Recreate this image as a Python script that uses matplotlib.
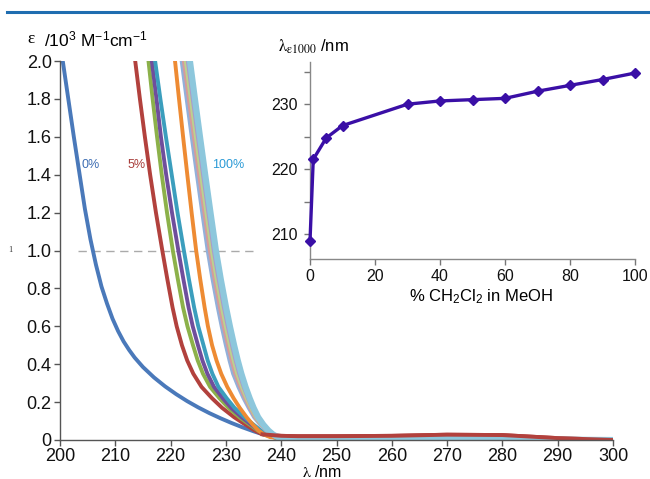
import matplotlib
matplotlib.use('Agg')
import matplotlib.pyplot as plt
from matplotlib.ticker import MultipleLocator, FixedLocator, FuncFormatter
from matplotlib.lines import Line2D

plt.rcParams['font.family'] = ['Liberation Sans', 'DejaVu Sans']
plt.rcParams['mathtext.fontset'] = 'custom'
plt.rcParams['mathtext.rm'] = 'Liberation Sans'
plt.rcParams['mathtext.it'] = 'Liberation Sans:italic'
plt.rcParams['mathtext.bf'] = 'Liberation Sans:bold'
plt.rcParams['mathtext.default'] = 'regular'

# ---------------- data: main spectra ----------------
# 0% CH2Cl2 (blue)
blue_lam = [200.0, 200.5, 201.5, 202.5, 203.5, 204.5, 205.5, 206.5, 207.5, 208.5, 209.5,
            210.5, 211.5, 212.5, 213.5, 215.0, 217.0, 219.0, 221.0, 223.0, 225.0, 227.0,
            229.0, 231.0, 233.0, 235.0, 237.0, 239.0, 241.0,
            245, 260, 275, 290, 300]
blue_eps = [2.10, 2.00, 1.80, 1.60, 1.41, 1.22, 1.06, 0.925, 0.81, 0.72, 0.64,
            0.575, 0.52, 0.475, 0.435, 0.385, 0.330, 0.283, 0.242, 0.205, 0.172, 0.142,
            0.115, 0.090, 0.067, 0.046, 0.027, 0.012, 0.006,
            0.005, 0.005, 0.006, 0.002, 0.0]

# 5% (red): wavelength at given epsilon levels, then its long-wavelength tail
red_eps = [2.2, 2.0, 1.8, 1.6, 1.4, 1.2, 1.0, 0.85, 0.7, 0.6, 0.5, 0.42, 0.35,
           0.28, 0.22, 0.17, 0.12, 0.08, 0.05, 0.03,
           0.022, 0.02, 0.02, 0.022, 0.028, 0.026, 0.01, 0.0]
red_lam = [212.8, 213.6, 214.45, 215.35, 216.3, 217.35, 218.5, 219.4, 220.35, 221.1, 222.05, 223.0, 224.1,
           225.6, 227.5, 229.3, 231.5, 233.6, 235.2, 236.6,
           240, 243, 250, 260, 270, 280, 290, 300]

# other spectra: wavelength at shared epsilon levels
steep_eps = [2.2, 2.0, 1.8, 1.6, 1.4, 1.2, 1.0, 0.85, 0.7, 0.6, 0.5, 0.42, 0.35,
             0.28, 0.22, 0.17, 0.12, 0.08, 0.05, 0.03, 0.015]
green_lam  = [215.2, 216.0, 216.75, 217.55, 218.4, 219.35, 220.4, 221.3, 222.25, 223.05, 224.05, 224.9, 225.85,
              227.15, 228.85, 230.45, 232.45, 234.35, 235.8, 237.05, 238.55]
purple_lam = [215.8, 216.6, 217.45, 218.25, 219.2, 220.25, 221.4, 222.3, 223.25, 224.0, 224.95, 225.75, 226.65,
              227.85, 229.45, 230.95, 232.85, 234.65, 236.05, 237.25, 238.7]
aqua_lam   = [216.4, 217.2, 218.15, 219.15, 220.2, 221.25, 222.4, 223.3, 224.25, 225.0, 225.95, 226.7, 227.55,
              228.65, 230.15, 231.55, 233.35, 235.05, 236.35, 237.5, 238.9]
orange_lam = [220.1, 220.8, 221.52, 222.26, 223.02, 223.8, 224.62, 225.35, 226.15, 226.75, 227.5, 228.3, 229.15,
              230.25, 231.4, 232.5, 233.75, 234.9, 235.9, 236.85, 238.0]
lblue_lam  = [221.1, 222.0, 222.9, 223.82, 224.76, 225.72, 226.7, 227.57, 228.53, 229.23, 229.99, 230.65, 231.3,
              232.26, 233.21, 234.11, 235.1, 236.24, 237.26, 238.15, 239.12]
pink_lam   = [221.5, 222.4, 223.3, 224.22, 225.16, 226.12, 227.1, 227.97, 228.93, 229.63, 230.39, 231.05, 231.7,
              232.61, 233.51, 234.35, 235.3, 236.39, 237.38, 238.24, 239.2]
lgreen_lam = [221.85, 222.75, 223.65, 224.57, 225.51, 226.47, 227.45, 228.32, 229.28, 229.98, 230.74, 231.4, 232.05,
              232.91, 233.76, 234.56, 235.47, 236.52, 237.48, 238.32, 239.26]
lpurp_lam  = [222.2, 223.1, 224.0, 224.92, 225.86, 226.82, 227.8, 228.67, 229.63, 230.33, 231.09, 231.75, 232.4,
              233.21, 234.01, 234.76, 235.64, 236.65, 237.58, 238.4, 239.32]
laqua_lam  = [222.6, 223.5, 224.4, 225.32, 226.26, 227.22, 228.2, 229.07, 230.03, 230.73, 231.49, 232.15, 232.8,
              233.56, 234.31, 235.01, 235.84, 236.8, 237.7, 238.5, 239.4]

# long-wavelength tail shared by the other spectra
tail_lam = [243, 250, 260, 270, 280, 290, 300]
other_tail_eps = [0.004, 0.004, 0.005, 0.006, 0.005, 0.002, 0.0]

# ---------------- data: inset ----------------
pct = [0, 1, 5, 10, 30, 40, 50, 60, 70, 80, 90, 100]
lam1000 = [208.9, 221.5, 224.8, 226.7, 230.0, 230.5, 230.7, 230.9, 232.0, 232.9, 233.8, 234.8]

main_xticks = [200, 210, 220, 230, 240, 250, 260, 270, 280, 290, 300]
main_yticks = [0, 0.2, 0.4, 0.6, 0.8, 1.0, 1.2, 1.4, 1.6, 1.8, 2.0]
inset_xticks = [0, 20, 40, 60, 80, 100]

W, H = 650, 479
fig = plt.figure(figsize=(6.5, 4.79), dpi=100)

def fx(px):
    return px / W

def fy(py):
    return 1 - py / H

# top rule
fig.add_artist(Line2D([fx(7), fx(650)], [fy(12), fy(12)], color='#1F6DB0', lw=2.2))

ax = fig.add_axes([fx(60), fy(440), fx(613) - fx(60), fy(61) - fy(440)])
ax.set_xlim(200, 300)
ax.set_ylim(0, 2.0)
for s in ['top', 'right']:
    ax.spines[s].set_visible(False)
for s in ['left', 'bottom']:
    ax.spines[s].set_color('#555555')
    ax.spines[s].set_linewidth(1.0)
ax.xaxis.set_major_locator(FixedLocator(main_xticks))
ax.yaxis.set_major_locator(FixedLocator(main_yticks))
ax.yaxis.set_major_formatter(FuncFormatter(lambda v, p: '0' if abs(v) < 1e-9 else f'{v:.1f}'))
ax.tick_params(axis='both', direction='out', length=4, width=1, color='#555555',
               labelsize=13, labelcolor='#111111')
ax.tick_params(axis='y', pad=2)
ax.tick_params(axis='x', pad=2)

# dashed line at 1.0
ax.plot([203.3, 235.8], [1.0, 1.0], ls=(0, (6, 4)), color='#aaaaaa', lw=1.0, zorder=1)

lw = 2.8
ax.plot(blue_lam, blue_eps, color='#4A79BA', lw=lw, solid_joinstyle='round')
ax.plot(red_lam, red_eps, color='#B2413D', lw=lw, solid_joinstyle='round')
series = [
    (green_lam, '#8CB14A', lw),
    (purple_lam, '#6F4E9C', lw),
    (aqua_lam, '#3B9EBD', lw),
    (orange_lam, '#EE8B33', lw),
    (lblue_lam, '#92B0DA', lw),
    (pink_lam, '#D79B9A', lw),
    (lgreen_lam, '#BBD28E', lw),
    (lpurp_lam, '#AA9CCB', lw),
    (laqua_lam, '#8DC7DC', lw + 1.6),
]
for lams, col, w in series:
    xs = list(lams) + tail_lam
    ys = list(steep_eps) + other_tail_eps
    ax.plot(xs, ys, color=col, lw=w, solid_joinstyle='round')
# red tail drawn on top
ax.plot(red_lam[19:], red_eps[19:], color='#B2413D', lw=lw)

# curve labels
fig.text(fx(82), fy(165), '0%', color='#3D6DB3', fontsize=9, va='center', ha='left')
fig.text(fx(128), fy(165), '5%', color='#A83D3A', fontsize=9, va='center', ha='left')
fig.text(fx(212), fy(165), '100%', color='#2A9AD6', fontsize=9, va='center', ha='left')

# axis titles
fig.text(fx(27), fy(39), 'ε', family=['Liberation Serif', 'DejaVu Serif'], fontsize=12.5, va='center', ha='left')
fig.text(fx(44), fy(39), '/10$^{3}$ M$^{-1}$cm$^{-1}$', fontsize=12.5, va='center', ha='left')
fig.text(fx(322), fy(464), r'$\mathrm{\lambda}$ /nm', math_fontfamily='stix', fontsize=11.5,
         va='top', ha='center')
fig.text(fx(10), fy(250), '1', family='Liberation Serif', fontsize=6, va='center', ha='center',
         color='#333333')

# ---------------- inset ----------------
ix0, ix1 = 310, 635
iy0, iy1 = 259, 62
axi = fig.add_axes([fx(ix0), fy(iy0), fx(ix1) - fx(ix0), fy(iy1) - fy(iy0)])
axi.set_facecolor('white')
axi.set_xlim(0, 100)
axi.set_ylim(206.15, 236.5)
for s in ['top', 'right']:
    axi.spines[s].set_visible(False)
for s in ['left', 'bottom']:
    axi.spines[s].set_color('#888888')
    axi.spines[s].set_linewidth(1.0)
axi.xaxis.set_major_locator(FixedLocator(inset_xticks))
axi.yaxis.set_major_locator(MultipleLocator(10))
axi.yaxis.set_minor_locator(MultipleLocator(5))
axi.tick_params(axis='both', which='both', direction='out', color='#777777', width=1)
axi.tick_params(axis='both', which='major', length=4, labelsize=11.5, labelcolor='#111111')
axi.tick_params(axis='y', which='minor', length=4)
axi.tick_params(axis='x', which='minor', bottom=False)
axi.tick_params(axis='y', pad=5)
axi.tick_params(axis='x', pad=3)
axi.plot(pct, lam1000, color='#3A0FA6', lw=2.4, marker='D', markersize=5.5,
         markerfacecolor='#3A0FA6', markeredgecolor='#3A0FA6', clip_on=False, zorder=5)

fig.text(fx(278), fy(47), r'$\mathrm{\lambda_{\varepsilon 1000}}$ /nm', math_fontfamily='stix',
         fontsize=12, va='center', ha='left')
fig.text(fx(481), fy(297), '% CH$_2$Cl$_2$ in MeOH', fontsize=12, va='center', ha='center')

fig.savefig('out.png', dpi=100)
